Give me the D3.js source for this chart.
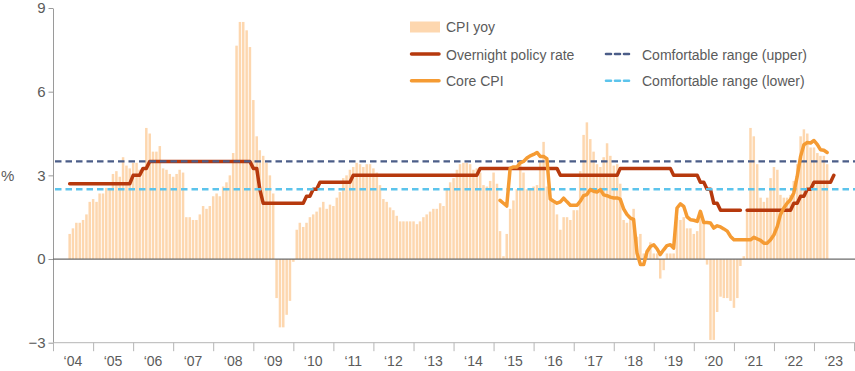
<!DOCTYPE html>
<html>
<head>
<meta charset="utf-8">
<script src="https://cdn.jsdelivr.net/npm/d3@7"></script>
<style>
  body { margin: 0; background: #fff; }
  svg { display: block; }
  text { font-family: "Liberation Sans", Arial, sans-serif; fill: #5b5b5b; }
</style>
</head>
<body>
<svg id="chart" width="855" height="371"></svg>
<script>
// ---------------- DATA ----------------
const yTicks = [-3, 0, 3, 6, 9];
const years = [2004, 2005, 2006, 2007, 2008, 2009, 2010, 2011, 2012, 2013,
               2014, 2015, 2016, 2017, 2018, 2019, 2020, 2021, 2022, 2023];
const yearLabels = ["‘04", "‘05", "‘06", "‘07", "‘08", "‘09", "‘10", "‘11", "‘12", "‘13",
                    "‘14", "‘15", "‘16", "‘17", "‘18", "‘19", "‘20", "‘21", "‘22", "‘23"];

// CPI yoy, monthly from Apr 2004
const cpiStart = [2004, 3];
const cpiYoy = [
  0.9, 1.1, 1.3, 1.3, 1.4, 1.6, 2.05, 2.15, 2.05,
  2.35, 2.35, 2.55, 2.55, 3.05, 3.15, 2.95, 3.65, 3.35, 3.25, 3.45, 3.45,
  3.2, 3.2, 4.7, 4.5, 3.85, 3.85, 4.05, 3.25, 3.2, 3.05, 2.95, 3.05,
  3.2, 3.1, 1.5, 1.5, 1.4, 1.4, 1.6, 1.9, 1.8, 1.9, 2.25, 2.35,
  2.25, 2.6, 2.75, 3.0, 3.8, 7.65, 8.5, 8.5, 8.2, 7.6, 5.7, 4.4,
  3.9, 3.7, 3.45, 3.0, 2.35, -1.4, -2.45, -2.45, -2.0, -1.5, -0.1, 1.05,
  1.3, 1.15, 1.3, 1.5, 1.6, 1.7, 1.85, 2.05, 1.8, 1.95, 1.9, 2.2,
  2.4, 2.9, 3.0, 3.2, 3.3, 3.45, 3.4, 3.3, 3.4, 3.4, 3.25, 3.1,
  2.65, 2.15, 2.05, 1.85, 1.75, 1.55, 1.35, 1.35, 1.35, 1.35, 1.35, 1.25,
  1.35, 1.5, 1.6, 1.7, 1.8, 1.8, 2.0, 1.9, 2.55, 2.75, 2.9, 3.2,
  3.4, 3.45, 3.45, 3.4, 3.2, 3.25, 3.1, 2.65, 2.6, 2.8, 3.1, 2.7,
  1.0, 0.1, 0.9, 1.8, 2.1, 2.5, 3.4, 3.1, 2.5, 2.5, 2.6, 2.65,
  3.5, 4.2, 2.6, 2.1, 2.0, 1.6, 1.05, 1.5, 1.5, 1.4, 1.75, 1.75,
  3.15, 4.45, 4.9, 4.3, 3.85, 3.4, 3.3, 3.65, 4.15, 3.7, 3.35, 3.4,
  2.7, 1.4, 1.3, 1.4, 1.8, 0.8, 0.9, 0.2, 0.3, 0.6, 0.2, 0.2,
  -0.7, -0.4, 0.2, 0.2, 0.2, 1.5, 1.4, 1.5, 1.1, 1.1, 0.9, 1.0,
  1.6, 1.3, -0.2, -2.9, -2.9, -1.9, -1.35, -1.4, -1.4, -1.5, -1.75, -1.4,
  -0.25, 0.1, 1.7, 4.7, 4.4, 3.4, 2.2, 2.05, 2.2, 2.9, 3.3, 3.2,
  2.3, 2.2, 2.2, 2.3, 2.8, 3.4, 4.4, 4.65, 4.5, 4.0, 4.0, 3.8,
  3.7, 3.7, 3.4
];

// Overnight policy rate, monthly from Apr 2004 (null = missing)
const oprStart = [2004, 3];
const oprRate = [
  2.7, 2.7, 2.7, 2.7, 2.7, 2.7, 2.7, 2.7, 2.7,
  2.7, 2.7, 2.7, 2.7, 2.7, 2.7, 2.7, 2.7, 2.7, 2.7, 3.0, 3.0,
  3.0, 3.25, 3.25, 3.5, 3.5, 3.5, 3.5, 3.5, 3.5, 3.5, 3.5, 3.5,
  3.5, 3.5, 3.5, 3.5, 3.5, 3.5, 3.5, 3.5, 3.5, 3.5, 3.5, 3.5,
  3.5, 3.5, 3.5, 3.5, 3.5, 3.5, 3.5, 3.5, 3.5, 3.5, 3.25, 3.25,
  2.5, 2.0, 2.0, 2.0, 2.0, 2.0, 2.0, 2.0, 2.0, 2.0, 2.0, 2.0,
  2.0, 2.0, 2.25, 2.25, 2.5, 2.5, 2.75, 2.75, 2.75, 2.75, 2.75, 2.75,
  2.75, 2.75, 2.75, 2.75, 3.0, 3.0, 3.0, 3.0, 3.0, 3.0, 3.0, 3.0,
  3.0, 3.0, 3.0, 3.0, 3.0, 3.0, 3.0, 3.0, 3.0, 3.0, 3.0, 3.0,
  3.0, 3.0, 3.0, 3.0, 3.0, 3.0, 3.0, 3.0, 3.0, 3.0, 3.0, 3.0,
  3.0, 3.0, 3.0, 3.0, 3.0, 3.0, 3.25, 3.25, 3.25, 3.25, 3.25, 3.25,
  3.25, 3.25, 3.25, 3.25, 3.25, 3.25, 3.25, 3.25, 3.25, 3.25, 3.25, 3.25,
  3.25, 3.25, 3.25, 3.25, 3.25, 3.25, 3.0, 3.0, 3.0, 3.0, 3.0, 3.0,
  3.0, 3.0, 3.0, 3.0, 3.0, 3.0, 3.0, 3.0, 3.0, 3.0, 3.0, 3.0,
  3.25, 3.25, 3.25, 3.25, 3.25, 3.25, 3.25, 3.25, 3.25, 3.25, 3.25, 3.25,
  3.25, 3.25, 3.25, 3.25, 3.0, 3.0, 3.0, 3.0, 3.0, 3.0, 3.0, 3.0,
  2.75, 2.75, 2.5, 2.5, 2.0, 2.0, 1.75, 1.75, 1.75, 1.75, 1.75, 1.75,
  1.75, null, 1.75, 1.75, 1.75, 1.75, 1.75, 1.75, 1.75, 1.75, 1.75, 1.75,
  1.75, 1.75, 1.75, 1.75, 2.0, 2.0, 2.25, 2.25, 2.5, 2.5, 2.75, 2.75,
  2.75, 2.75, 2.75, 2.75, 3.0
];

// Core CPI, monthly from Jan 2015
const coreStart = [2015, 0];
const coreCpi = [
  2.1, 2.0, 1.9, 3.25, 3.3, 3.3, 3.45, 3.5, 3.62, 3.7, 3.75, 3.82,
  3.68, 3.68, 3.6, 2.15, 2.07, 2.0, 2.05, 2.18, 2.05, 1.93, 1.93, 1.93,
  2.07, 2.27, 2.31, 2.49, 2.43, 2.4, 2.49, 2.3, 2.27, 2.22, 2.19, 2.19,
  2.15, 1.8, 1.6, 1.47, 1.42, 0.22, -0.2, -0.2, 0.27, 0.45, 0.51, 0.36,
  0.16, 0.33, 0.48, 0.51, 0.39, 1.83, 1.98, 1.89, 1.51, 1.41, 1.39, 1.35,
  1.71, 1.31, 1.31, 1.29, 1.11, 1.19, 1.15, 1.08, 1.0, 0.81, 0.69, 0.69,
  0.69, 0.69, 0.69, 0.69, 0.78, 0.72, 0.67, 0.57, 0.57, 0.69, 0.87, 1.17,
  1.59, 1.83, 2.0, 2.13, 2.37, 2.96, 3.68, 4.1, 4.18, 4.16, 4.25, 4.1,
  3.92, 3.9, 3.82
];

const comfortUpper = 3.5;
const comfortLower = 2.5;

const seriesNames = ["CPI yoy", "Overnight policy rate", "Core CPI",
                     "Comfortable range (upper)", "Comfortable range (lower)"];
const colors = {
  cpi: "#fdd7af",
  opr: "#b6390d",
  core: "#f59b33",
  upper: "#4b5d88",
  lower: "#5cc4ec"
};

// ---------------- CHART ----------------
const svg = d3.select("#chart");
const W = 855;

const x = d3.scaleTime()
  .domain([new Date(2004, 0, 1), new Date(2024, 0, 1)])
  .range([53, 854]);
const y = d3.scaleLinear().domain([-3, 9]).range([342.7, 8]);

// series points are plotted two months after their reference month
const SHIFT_MONTHS = 2;
const pos = d => x(d3.timeMonth.offset(d, SHIFT_MONTHS));
const monthly = (start, arr) => arr.map((v, i) => ({
  date: new Date(start[0], start[1] + i, 1), value: v
}));

const cpiData = monthly(cpiStart, cpiYoy);
const oprData = monthly(oprStart, oprRate);
const coreData = monthly(coreStart, coreCpi);

// bars
const bw = 2.5;
svg.append("g").selectAll("rect").data(cpiData).join("rect")
  .attr("x", d => pos(d.date) - bw / 2)
  .attr("width", bw)
  .attr("y", d => y(Math.max(0, d.value)))
  .attr("height", d => Math.abs(y(d.value) - y(0)))
  .attr("fill", colors.cpi);

// y axis
const yAxis = svg.append("g").attr("transform", "translate(53,0)")
  .call(d3.axisLeft(y).tickValues(yTicks).tickSize(4.5).tickSizeOuter(0).tickPadding(3)
    .tickFormat(d3.format("d")));
yAxis.select(".domain").attr("stroke", "#9a9a9a");
yAxis.selectAll(".tick line").attr("stroke", "#9a9a9a");
yAxis.selectAll(".tick text").attr("font-size", 15).attr("fill", "#666")
  .style("font-family", "'Liberation Sans', Arial, sans-serif");

svg.append("text").attr("x", 1).attr("y", 181).attr("font-size", 15)
  .attr("fill", "#666").text("%");

// x axis
const yearStarts = years.concat([2024]).map(yr => new Date(yr, 0, 1));
const xAxis = svg.append("g").attr("transform", `translate(0,${y(-3)})`)
  .call(d3.axisBottom(x).tickValues(yearStarts).tickSize(8.5).tickSizeOuter(0).tickFormat(""));
xAxis.select(".domain").attr("stroke", "#b5b5b5").attr("d", `M53,0H855`);
xAxis.selectAll(".tick line").attr("stroke", "#b5b5b5");

svg.append("g").selectAll("text").data(years).join("text")
  .attr("x", yr => x(new Date(yr, 6, 1)))
  .attr("y", 366)
  .attr("text-anchor", "middle")
  .attr("font-size", 14)
  .attr("fill", "#666")
  .text((yr, i) => yearLabels[i]);

// zero line
svg.append("line").attr("x1", 53).attr("x2", W).attr("y1", y(0)).attr("y2", y(0))
  .attr("stroke", "#6b6b6b").attr("stroke-width", 1.2);

// OPR line
const line = d3.line()
  .defined(d => d.value !== null)
  .x(d => pos(d.date)).y(d => y(d.value));

svg.append("path").datum(oprData).attr("d", line)
  .attr("fill", "none").attr("stroke", colors.opr).attr("stroke-width", 3.5)
  .attr("stroke-linejoin", "round").attr("stroke-linecap", "round");

// comfortable range lines
[[comfortUpper, colors.upper], [comfortLower, colors.lower]].forEach(([v, c]) => {
  svg.append("line").attr("x1", 55).attr("x2", W).attr("y1", y(v)).attr("y2", y(v))
    .attr("stroke", c).attr("stroke-width", 2.4).attr("stroke-dasharray", "6.5,4");
});

// core CPI
svg.append("path").datum(coreData).attr("d", line)
  .attr("fill", "none").attr("stroke", colors.core).attr("stroke-width", 3.5)
  .attr("stroke-linejoin", "round").attr("stroke-linecap", "round");

// legend
const lg = svg.append("g").attr("font-size", 14);
lg.append("rect").attr("x", 410).attr("y", 21.5).attr("width", 30).attr("height", 11)
  .attr("fill", colors.cpi);
lg.append("text").attr("x", 446).attr("y", 32).text(seriesNames[0]);

lg.append("line").attr("x1", 411.5).attr("x2", 439).attr("y1", 54).attr("y2", 54)
  .attr("stroke", colors.opr).attr("stroke-width", 3.5).attr("stroke-linecap", "round");
lg.append("text").attr("x", 446).attr("y", 59.5).text(seriesNames[1]);

lg.append("line").attr("x1", 411.5).attr("x2", 439).attr("y1", 80.7).attr("y2", 80.7)
  .attr("stroke", colors.core).attr("stroke-width", 3.5).attr("stroke-linecap", "round");
lg.append("text").attr("x", 446).attr("y", 86.2).text(seriesNames[2]);

lg.append("line").attr("x1", 606).attr("x2", 633).attr("y1", 54).attr("y2", 54)
  .attr("stroke", colors.upper).attr("stroke-width", 2.6).attr("stroke-dasharray", "5,4")
  .attr("stroke-linecap", "round");
lg.append("text").attr("x", 642).attr("y", 59.5).text(seriesNames[3]);

lg.append("line").attr("x1", 606).attr("x2", 633).attr("y1", 80.7).attr("y2", 80.7)
  .attr("stroke", colors.lower).attr("stroke-width", 2.6).attr("stroke-dasharray", "5,4")
  .attr("stroke-linecap", "round");
lg.append("text").attr("x", 642).attr("y", 86.2).text(seriesNames[4]);
</script>
</body>
</html>
